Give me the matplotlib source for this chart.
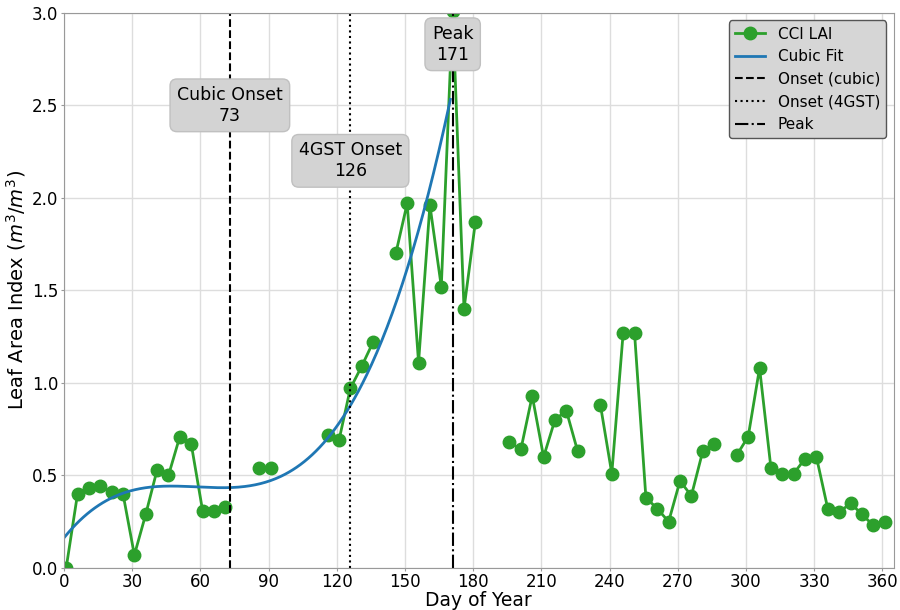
import numpy as np
import matplotlib
matplotlib.use("Agg")
import matplotlib.pyplot as plt

nan = np.nan
days = list(range(1, 362, 5))
lai = [0.00, 0.40, 0.43, 0.44, 0.41, 0.40, 0.07, 0.29, 0.53, 0.50,
       0.71, 0.67, 0.31, 0.31, 0.33, nan, nan, 0.54, 0.54, nan,
       nan, nan, nan, 0.72, 0.69, 0.97, 1.09, 1.22, nan, 1.70,
       1.97, 1.11, 1.96, 1.52, 3.01, 1.40, 1.87, nan, nan, 0.68,
       0.64, 0.93, 0.60, 0.80, 0.85, 0.63, nan, 0.88, 0.51, 1.27,
       1.27, 0.38, 0.32, 0.25, 0.47, 0.39, 0.63, 0.67, nan, 0.61,
       0.71, 1.08, 0.54, 0.51, 0.51, 0.59, 0.60, 0.32, 0.30, 0.35,
       0.29, 0.23, 0.25]
# cubic fit curve (x, y)
fit_x = [0, 30, 45, 60, 73, 90, 127.5, 153, 170]
fit_y = [0.17, 0.395, 0.45, 0.44, 0.435, 0.476, 0.92, 1.665, 2.55]
onset_cubic = 73
onset_4gst = 126
peak_day = 171
xticks = list(range(0, 361, 30))

days_a = np.array(days, dtype=float)
lai_a = np.array(lai, dtype=float)

fig = plt.figure(figsize=(9, 6.1), dpi=100)
ax = fig.add_axes([0.071, 0.069, 0.922, 0.910])

ax.plot(days_a, lai_a, color='tab:green', marker='o', markersize=9, lw=2, label='CCI LAI')

coef = np.polyfit(fit_x, fit_y, 3)
xf = np.linspace(0, 170, 300)
ax.plot(xf, np.polyval(coef, xf), color='tab:blue', lw=2, label='Cubic Fit')

ax.axvline(onset_cubic, color='black', ls='--', lw=1.5, label='Onset (cubic)')
ax.axvline(onset_4gst, color='black', ls=':', lw=1.5, label='Onset (4GST)')
ax.axvline(peak_day, color='black', ls='-.', lw=1.5, label='Peak')

bbox = dict(boxstyle='round,pad=0.4', facecolor='#d3d3d3', edgecolor='#c0c0c0')
ax.text(onset_cubic, 2.5, f'Cubic Onset\n{onset_cubic}', ha='center', va='center', fontsize=12.5, bbox=bbox)
ax.text(onset_4gst, 2.2, f'4GST Onset\n{onset_4gst}', ha='center', va='center', fontsize=12.5, bbox=bbox)
ax.text(peak_day, 2.83, f'Peak\n{peak_day}', ha='center', va='center', fontsize=12.5, bbox=bbox)

ax.set_xlim(0, 365)
ax.set_ylim(0, 3.0)
ax.set_xticks(xticks)
ax.tick_params(labelsize=12, color='#999999', length=2, pad=2)
ax.grid(True, color='#dddddd', lw=1)
ax.set_axisbelow(True)
for s in ax.spines.values():
    s.set_color('#999999')
ax.set_xlabel('Day of Year', fontsize=13.5, labelpad=0)
ax.set_ylabel('Leaf Area Index ($m^3/m^3$)', fontsize=14, labelpad=3)

leg = ax.legend(loc='upper right', fontsize=11, facecolor='#d6d6d6', edgecolor='#555555', framealpha=1)

fig.savefig('out.png', dpi=100)
